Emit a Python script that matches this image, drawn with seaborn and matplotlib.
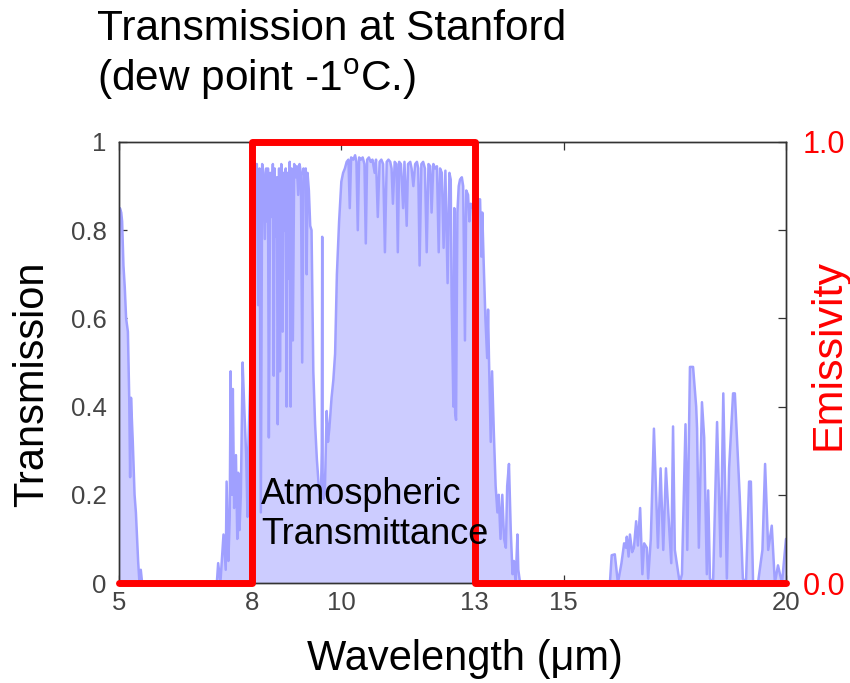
import matplotlib
matplotlib.use("Agg")
import matplotlib.pyplot as plt
import seaborn as sns

# Atmospheric transmission spectrum (wavelength in micrometres)
wavelength_um = [
    5.00, 5.02, 5.05, 5.07, 5.10, 5.13, 5.16, 5.20, 5.23, 5.25, 5.27, 5.31, 5.35, 5.38,
    5.43, 5.46, 5.49, 5.52, 5.60, 7.20,
    7.23, 7.28, 7.35, 7.40, 7.42, 7.46, 7.49, 7.51, 7.54, 7.56, 7.59, 7.63, 7.66, 7.68,
    7.71, 7.74, 7.78, 7.82, 7.86, 7.89, 7.91, 7.95, 7.98,
    8.02, 8.05, 8.08, 8.10, 8.13, 8.16, 8.19, 8.22, 8.25, 8.28, 8.31, 8.33, 8.35, 8.37,
    8.40, 8.43, 8.46, 8.48, 8.50, 8.53, 8.55, 8.57, 8.60, 8.62, 8.65, 8.68, 8.70, 8.73,
    8.75, 8.77, 8.79, 8.82, 8.84, 8.86, 8.88, 8.91, 8.94, 8.97, 9.00, 9.03, 9.06, 9.09,
    9.12, 9.15, 9.18, 9.20, 9.22, 9.24, 9.27, 9.30, 9.33,
    9.37, 9.41, 9.45, 9.50, 9.54, 9.56, 9.57, 9.58, 9.60, 9.63, 9.67, 9.70, 9.73, 9.78,
    9.82, 9.86, 9.90, 9.95,
    10.00, 10.04, 10.08, 10.12, 10.16, 10.19, 10.22, 10.27, 10.31, 10.34, 10.37, 10.40,
    10.44, 10.48, 10.52, 10.55, 10.58, 10.62, 10.66, 10.70, 10.75, 10.78, 10.82, 10.86,
    10.90, 10.94, 10.98, 11.02, 11.06, 11.10, 11.13, 11.16, 11.20, 11.24, 11.27, 11.30,
    11.34, 11.39, 11.42, 11.47, 11.50, 11.55, 11.58, 11.62, 11.66, 11.70, 11.73, 11.76,
    11.80, 11.84, 11.88, 11.92, 11.96, 12.00, 12.03, 12.07, 12.11, 12.15, 12.19, 12.22,
    12.26, 12.30, 12.34, 12.39, 12.43, 12.46, 12.48, 12.52, 12.54, 12.56, 12.58, 12.61,
    12.64, 12.67, 12.71, 12.74, 12.78, 12.81, 12.85, 12.88, 12.91, 12.95,
    13.00, 13.04, 13.07, 13.12, 13.15, 13.17, 13.20, 13.24, 13.28, 13.30, 13.32, 13.36,
    13.39, 13.43, 13.47, 13.51, 13.54, 13.58, 13.62, 13.66, 13.70, 13.73, 13.77, 13.81,
    13.85, 13.88, 13.92, 13.96, 13.98, 14.02,
    16.04, 16.08, 16.15, 16.22, 16.30, 16.36, 16.40, 16.42, 16.46, 16.49, 16.54, 16.58,
    16.63, 16.67, 16.72, 16.77, 16.81, 16.87, 16.90, 16.96, 17.03, 17.12, 17.18, 17.24,
    17.30, 17.37, 17.42, 17.46, 17.50, 17.61, 17.66, 17.74, 17.78, 17.84, 17.91, 17.98,
    18.00, 18.04, 18.11, 18.16, 18.22, 18.25, 18.29, 18.36, 18.45, 18.53, 18.59, 18.67,
    18.72, 18.81, 18.85, 18.96, 19.03, 19.10, 19.17, 19.21, 19.26, 19.37, 19.47, 19.53,
    19.60, 19.68, 19.75, 19.82, 19.91, 20.00,
]

transmission = [
    0.70, 0.85, 0.84, 0.82, 0.72, 0.67, 0.60, 0.57, 0.42, 0.24, 0.42, 0.32, 0.20, 0.16,
    0.05, 0.00, 0.03, 0.00, 0.00, 0.00,
    0.045, 0.00, 0.11, 0.03, 0.23, 0.05, 0.15, 0.48, 0.20, 0.44, 0.17, 0.29, 0.10, 0.25,
    0.12, 0.20, 0.50, 0.39, 0.29, 0.15, 0.31, 0.45, 0.70,
    0.93, 0.955, 0.94, 0.95, 0.63, 0.94, 0.16, 0.95, 0.93, 0.78, 0.94, 0.82, 0.94, 0.33,
    0.93, 0.83, 0.95, 0.47, 0.94, 0.785, 0.92, 0.36, 0.94, 0.48, 0.95, 0.57, 0.93, 0.80,
    0.94, 0.40, 0.93, 0.69, 0.955, 0.40, 0.94, 0.55, 0.95, 0.92, 0.945, 0.88, 0.95, 0.93,
    0.50, 0.94, 0.91, 0.94, 0.70, 0.93, 0.89, 0.81, 0.80,
    0.48, 0.36, 0.28, 0.21, 0.19, 0.30, 0.785, 0.25, 0.19, 0.21, 0.39, 0.32, 0.35, 0.42,
    0.46, 0.52, 0.70, 0.82,
    0.91, 0.93, 0.94, 0.955, 0.96, 0.85, 0.965, 0.96, 0.97, 0.955, 0.80, 0.965,
    0.96, 0.965, 0.95, 0.77, 0.96, 0.965, 0.955, 0.96, 0.93, 0.96, 0.83, 0.955,
    0.96, 0.95, 0.75, 0.955, 0.96, 0.955, 0.94, 0.86, 0.955, 0.95, 0.75, 0.955,
    0.95, 0.85, 0.955, 0.81, 0.95, 0.955, 0.94, 0.90, 0.95, 0.955, 0.94, 0.72,
    0.95, 0.955, 0.94, 0.75, 0.95, 0.945, 0.84, 0.95, 0.94, 0.945, 0.75, 0.94,
    0.93, 0.76, 0.935, 0.68, 0.93, 0.915, 0.65, 0.40, 0.85, 0.385, 0.37, 0.84,
    0.90, 0.915, 0.92, 0.90, 0.55, 0.89, 0.88, 0.82, 0.86, 0.85,
    0.86, 0.84, 0.87, 0.87, 0.74, 0.84, 0.73, 0.60, 0.51, 0.62, 0.51, 0.32,
    0.48, 0.34, 0.22, 0.16, 0.20, 0.10, 0.20, 0.10, 0.08, 0.22, 0.27, 0.12,
    0.02, 0.05, 0.00, 0.11, 0.03, 0.00,
    0.00, 0.063, 0.065, 0.00, 0.045, 0.09, 0.08, 0.105, 0.06, 0.11, 0.07, 0.08,
    0.14, 0.085, 0.17, 0.02, 0.09, 0.08, 0.01, 0.10, 0.35, 0.08, 0.26, 0.075,
    0.26, 0.13, 0.045, 0.355, 0.075, 0.00, 0.02, 0.36, 0.075, 0.49, 0.49, 0.40,
    0.35, 0.08, 0.41, 0.33, 0.02, 0.21, 0.01, 0.00, 0.365, 0.06, 0.43, 0.01,
    0.26, 0.43, 0.43, 0.195, 0.01, 0.00, 0.23, 0.23, 0.00, 0.00, 0.075, 0.27,
    0.075, 0.13, 0.00, 0.04, 0.00, 0.10,
]

# Ideal selective emitter: unity emissivity inside the 8-13 um window
emis_wavelength = [5, 8, 8, 13, 13, 20]
emissivity = [0, 0, 1, 1, 0, 0]

x_ticks = [5, 8, 10, 13, 15, 20]
y_ticks = [0, 0.2, 0.4, 0.6, 0.8, 1.0]
y_tick_labels = ["0", "0.2", "0.4", "0.6", "0.8", "1"]
emis_tick_labels = ["0.0", "", "", "", "", "1.0"]

sns.set_style("ticks", {"xtick.direction": "in", "ytick.direction": "in"})
plt.rcParams["font.family"] = ["Liberation Sans", "DejaVu Sans"]
plt.rcParams["mathtext.fontset"] = "custom"
plt.rcParams["mathtext.rm"] = "Liberation Sans"

line_col = "#a0a0ff"
fill_col = "#ccccff"
grey = "#444444"

fig = plt.figure(figsize=(8.5, 6.83), dpi=100)
ax = fig.add_axes([0.14, 0.1464, 0.7847, 0.6457])

ax.fill_between(wavelength_um, 0, transmission, color=fill_col, lw=0, zorder=1)
sns.lineplot(x=wavelength_um, y=transmission, ax=ax, estimator=None, sort=False,
             color=line_col, lw=1.8, zorder=2)

ax.set_xlim(5, 20)
ax.set_ylim(0, 1)
ax.set_xticks(x_ticks)
ax.set_xticklabels([str(t) for t in x_ticks])
ax.set_yticks(y_ticks)
ax.set_yticklabels(y_tick_labels)
ax.set_xlabel("")
ax.set_ylabel("")
ax.tick_params(axis="both", direction="in", length=6, width=0.9, color="#333333",
               labelcolor=grey, labelsize=18.5, top=True)
ax.tick_params(axis="y", pad=9)
ax.tick_params(axis="x", pad=6)
for s in ax.spines.values():
    s.set_visible(True)
    s.set_color("#333333")
    s.set_linewidth(1.0)

ax2 = ax.twinx()
sns.lineplot(x=emis_wavelength, y=emissivity, ax=ax2, estimator=None, sort=False,
             color="#ff0000", lw=5, clip_on=False, zorder=3)
ax2.set_ylim(0, 1)
ax2.set_xlim(5, 20)
ax2.set_yticks(y_ticks)
ax2.set_yticklabels(emis_tick_labels)
ax2.set_ylabel("")
ax2.tick_params(axis="y", direction="in", length=6, width=0.9, color="#333333",
                labelcolor="#ff0000", labelsize=22, pad=12)
for s in ax2.spines.values():
    s.set_color("#333333")
    s.set_linewidth(1.0)

ax2.text(8.2, 0.24, "Atmospheric\nTransmittance", fontsize=26, color="black",
         ha="left", va="top", linespacing=1.17, zorder=5)

fig.text(97 / 850, 1 - 9 / 683, "Transmission at Stanford", fontsize=30.5,
         ha="left", va="top", color="black")
fig.text(97 / 850, 1 - 57 / 683, r"(dew point -1$^{\mathrm{o}}$C.)", fontsize=30.5,
         ha="left", va="top", color="black")
fig.text(32 / 850, 1 - 384 / 683, "Transmission", fontsize=30, rotation=90,
         ha="center", va="center", color="black")
fig.text(829 / 850, 1 - 355 / 683, "Emissivity", fontsize=31, rotation=90,
         ha="center", va="center", color="#ff0000")
fig.text(465 / 850, 1 - 659 / 683, "Wavelength (\u03bcm)", fontsize=30,
         ha="center", va="center", color="black")

fig.savefig("out.png", dpi=100)
